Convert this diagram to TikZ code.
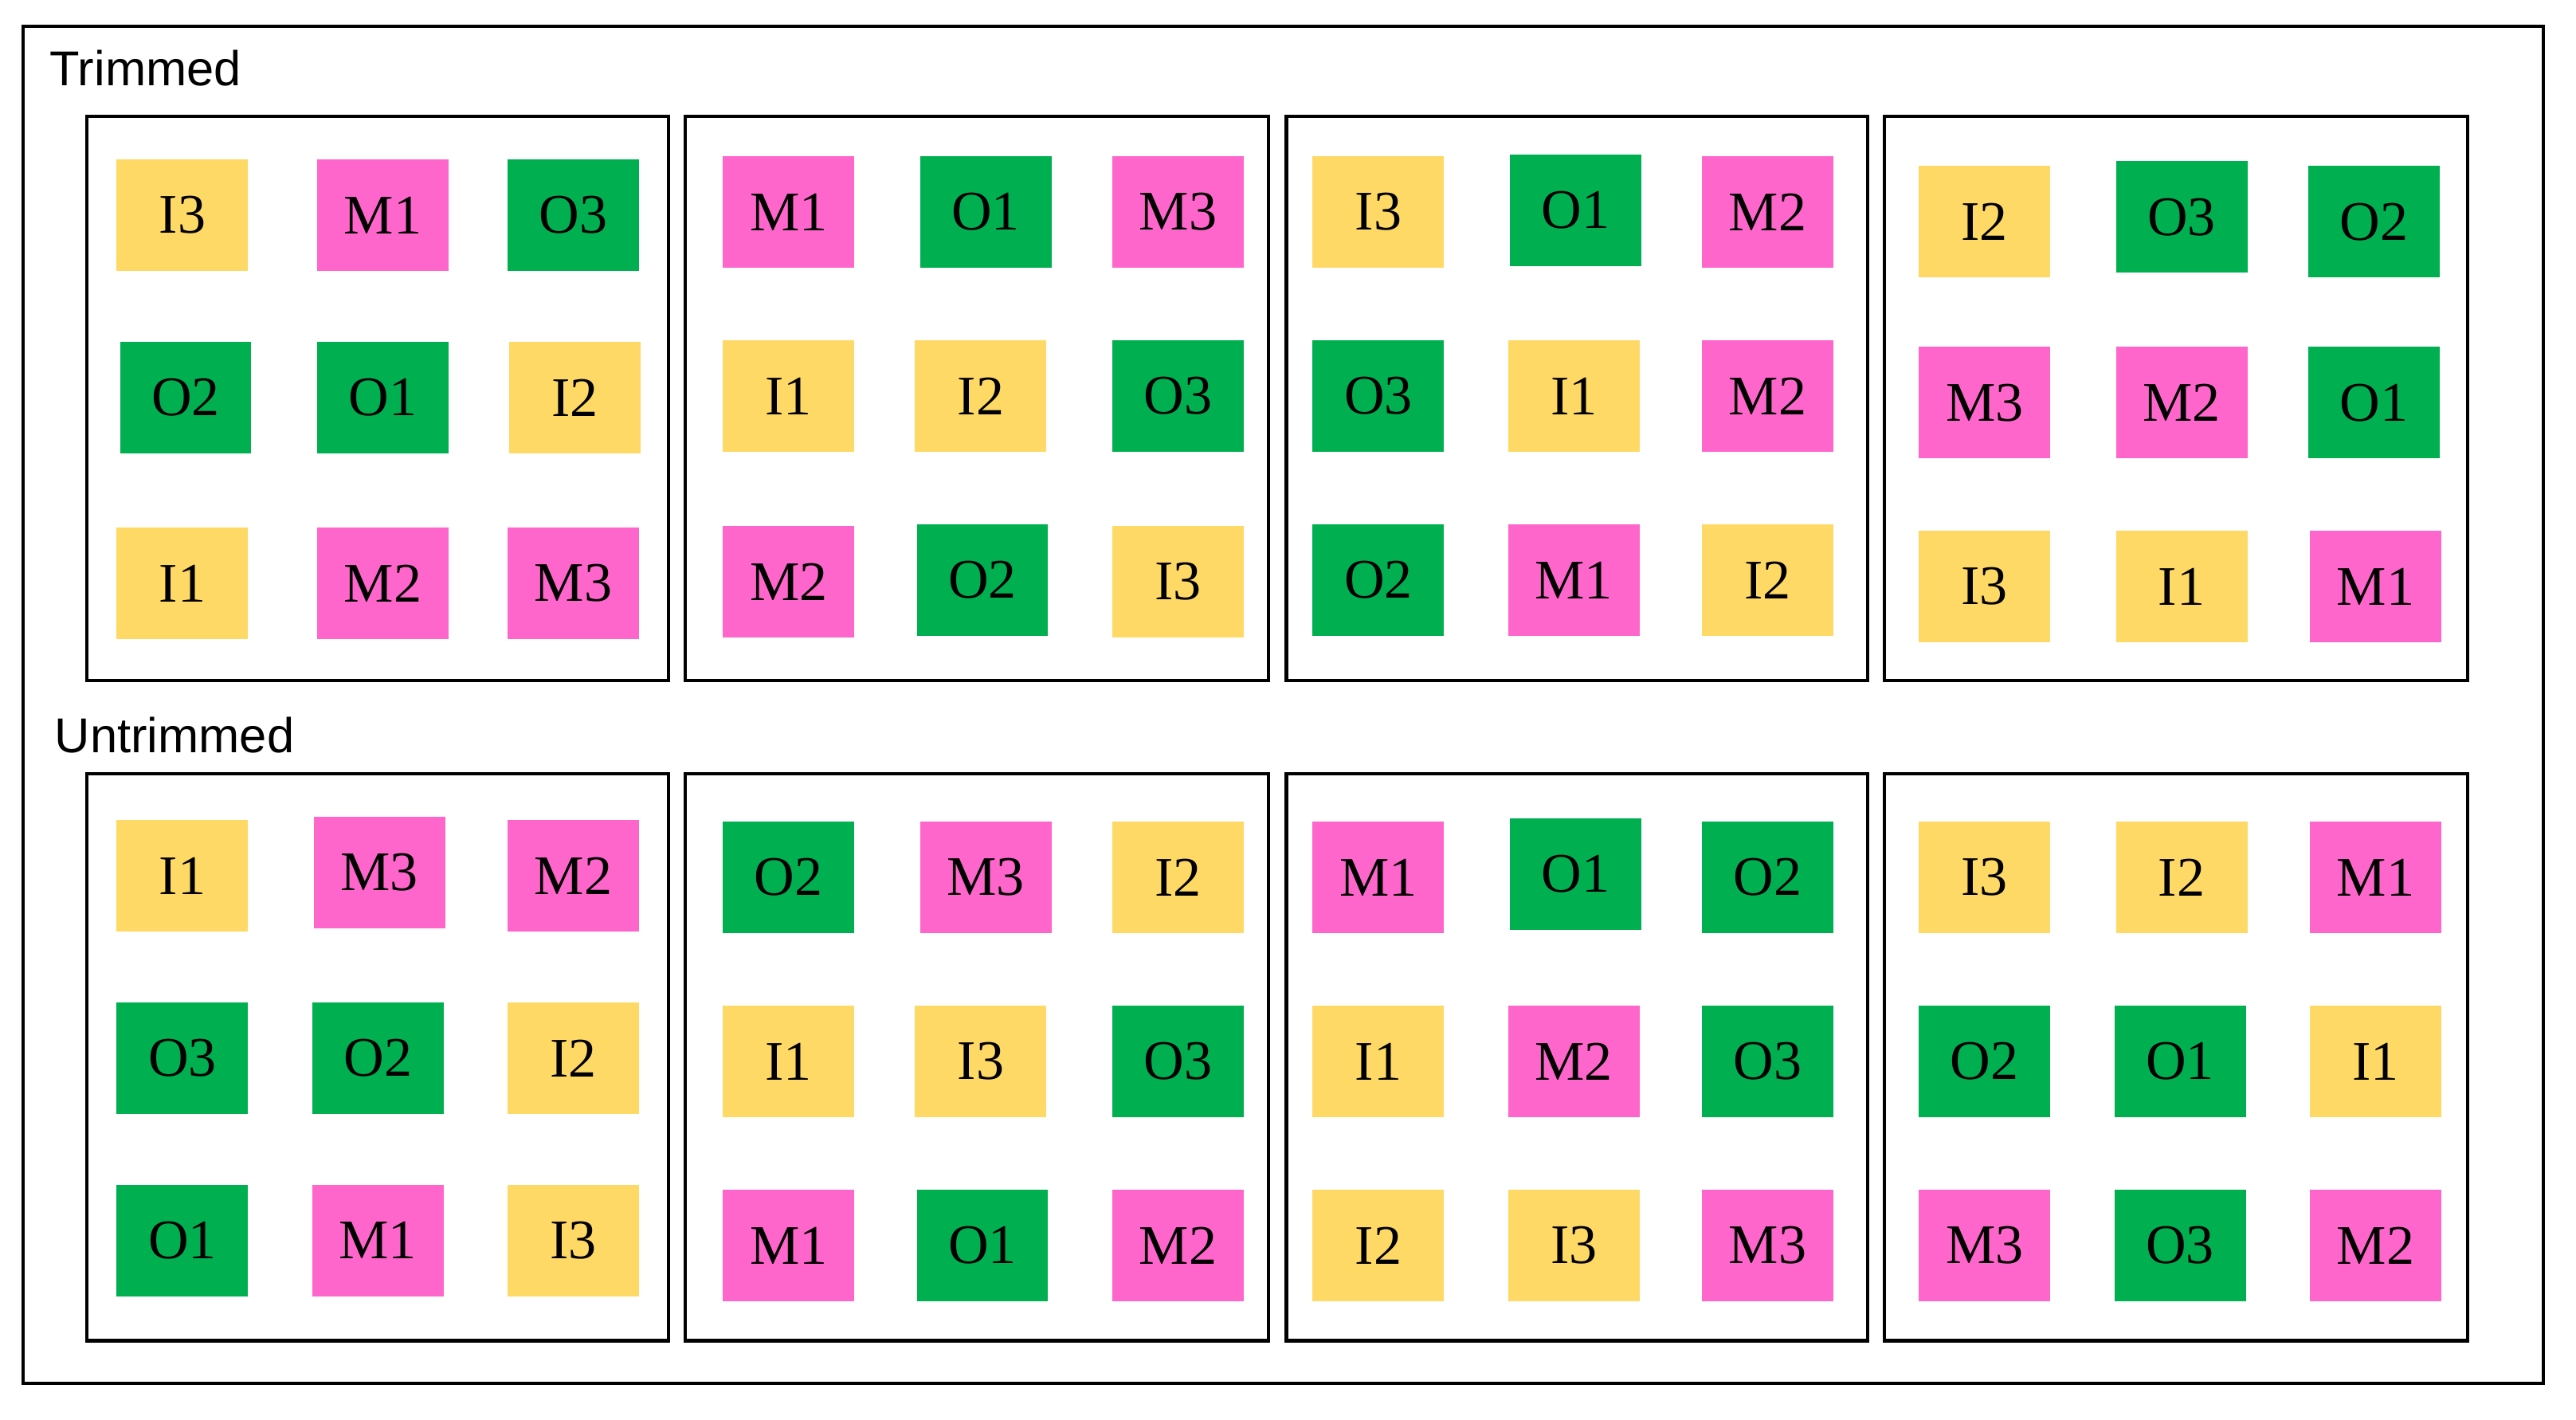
\documentclass[tikz,border=0pt]{standalone}
\usepackage{fontspec}
\newfontfamily\tnr{Liberation Serif}
\newfontfamily\arl{Liberation Sans}
\definecolor{cy}{HTML}{FFD966}
\definecolor{cp}{HTML}{FF66CC}
\definecolor{cg}{HTML}{00B050}
\begin{document}
\begin{tikzpicture}[x=0.5pt,y=-0.5pt,
  box/.style={minimum width=40pt,minimum height=34pt,inner sep=0pt,font=\tnr\fontsize{17}{18}\selectfont},
  yel/.style={box,fill=cy},
  pnk/.style={box,fill=cp},
  grn/.style={box,fill=cg},
  frame/.style={draw=black,line width=1pt},
  hdr/.style={anchor=base west,inner sep=0pt,font=\arl\fontsize{14.9}{17}\selectfont}]
\useasboundingbox (0,0) rectangle (1568,864);
\draw[frame] (14,16) rectangle (1548,842);
\node[hdr] (lt) at (30,52) {Trimmed};
\node[hdr] (lu) at (33,458) {Untrimmed};
% panels
\draw[frame] (53,71) rectangle (407,414);
\draw[frame] (417,71) rectangle (772,414);
\draw[frame] (783,71) rectangle (1137,414);
\draw[frame] (1147,71) rectangle (1502,414);
\draw[frame] (53,471) rectangle (407,816);
\draw[frame] (417,471) rectangle (772,816);
\draw[frame] (783,471) rectangle (1137,816);
\draw[frame] (1147,471) rectangle (1502,816);
% Trimmed panel 1
\node[yel] (t1a) at (111,131) {I3};
\node[pnk] (t1b) at (233,131) {M1};
\node[grn] (t1c) at (349,131) {O3};
\node[grn] (t1d) at (113,242) {O2};
\node[grn] (t1e) at (233,242) {O1};
\node[yel] (t1f) at (350,242) {I2};
\node[yel] (t1g) at (111,355) {I1};
\node[pnk] (t1h) at (233,355) {M2};
\node[pnk] (t1i) at (349,355) {M3};
% Trimmed panel 2
\node[pnk] (t2a) at (480,129) {M1};
\node[grn] (t2b) at (600,129) {O1};
\node[pnk] (t2c) at (717,129) {M3};
\node[yel] (t2d) at (480,241) {I1};
\node[yel] (t2e) at (597,241) {I2};
\node[grn] (t2f) at (717,241) {O3};
\node[pnk] (t2g) at (480,354) {M2};
\node[grn] (t2h) at (598,353) {O2};
\node[yel] (t2i) at (717,354) {I3};
% Trimmed panel 3
\node[yel] (t3a) at (839,129) {I3};
\node[grn] (t3b) at (959,128) {O1};
\node[pnk] (t3c) at (1076,129) {M2};
\node[grn] (t3d) at (839,241) {O3};
\node[yel] (t3e) at (958,241) {I1};
\node[pnk] (t3f) at (1076,241) {M2};
\node[grn] (t3g) at (839,353) {O2};
\node[pnk] (t3h) at (958,353) {M1};
\node[yel] (t3i) at (1076,353) {I2};
% Trimmed panel 4
\node[yel] (t4a) at (1208,135) {I2};
\node[grn] (t4b) at (1328,132) {O3};
\node[grn] (t4c) at (1445,135) {O2};
\node[pnk] (t4d) at (1208,245) {M3};
\node[pnk] (t4e) at (1328,245) {M2};
\node[grn] (t4f) at (1445,245) {O1};
\node[yel] (t4g) at (1208,357) {I3};
\node[yel] (t4h) at (1328,357) {I1};
\node[pnk] (t4i) at (1446,357) {M1};
% Untrimmed panel 1
\node[yel] (u1a) at (111,533) {I1};
\node[pnk] (u1b) at (231,531) {M3};
\node[pnk] (u1c) at (349,533) {M2};
\node[grn] (u1d) at (111,644) {O3};
\node[grn] (u1e) at (230,644) {O2};
\node[yel] (u1f) at (349,644) {I2};
\node[grn] (u1g) at (111,755) {O1};
\node[pnk] (u1h) at (230,755) {M1};
\node[yel] (u1i) at (349,755) {I3};
% Untrimmed panel 2
\node[grn] (u2a) at (480,534) {O2};
\node[pnk] (u2b) at (600,534) {M3};
\node[yel] (u2c) at (717,534) {I2};
\node[yel] (u2d) at (480,646) {I1};
\node[yel] (u2e) at (597,646) {I3};
\node[grn] (u2f) at (717,646) {O3};
\node[pnk] (u2g) at (480,758) {M1};
\node[grn] (u2h) at (598,758) {O1};
\node[pnk] (u2i) at (717,758) {M2};
% Untrimmed panel 3
\node[pnk] (u3a) at (839,534) {M1};
\node[grn] (u3b) at (959,532) {O1};
\node[grn] (u3c) at (1076,534) {O2};
\node[yel] (u3d) at (839,646) {I1};
\node[pnk] (u3e) at (958,646) {M2};
\node[grn] (u3f) at (1076,646) {O3};
\node[yel] (u3g) at (839,758) {I2};
\node[yel] (u3h) at (958,758) {I3};
\node[pnk] (u3i) at (1076,758) {M3};
% Untrimmed panel 4
\node[yel] (u4a) at (1208,534) {I3};
\node[yel] (u4b) at (1328,534) {I2};
\node[pnk] (u4c) at (1446,534) {M1};
\node[grn] (u4d) at (1208,646) {O2};
\node[grn] (u4e) at (1327,646) {O1};
\node[yel] (u4f) at (1446,646) {I1};
\node[pnk] (u4g) at (1208,758) {M3};
\node[grn] (u4h) at (1327,758) {O3};
\node[pnk] (u4i) at (1446,758) {M2};
\end{tikzpicture}
\end{document}
